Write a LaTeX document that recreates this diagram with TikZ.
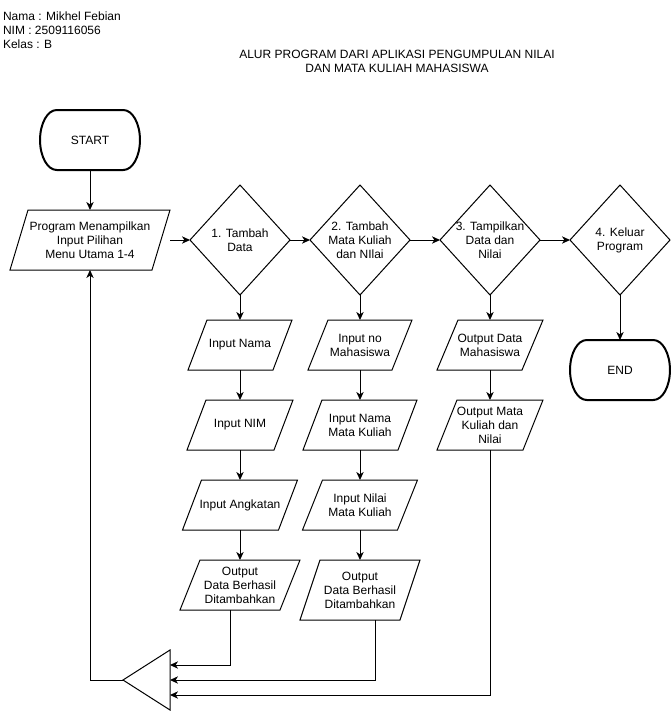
\documentclass[tikz,border=0pt]{standalone}
\usepackage{fontspec}
\setmainfont{Liberation Sans}
\usetikzlibrary{calc,arrows.meta}
\begin{document}
\begin{tikzpicture}[x=0.75pt,y=-0.75pt,
  every node/.style={font=\fontsize{9}{10.5}\selectfont, inner sep=0pt, outer sep=0pt, align=center},
  box/.style 2 args={minimum width=#1*0.75pt, minimum height=#2*0.75pt},
  outline/.style={line width=0.75pt, draw=black},
  termline/.style={line width=1.5pt, draw=black},
  link/.style={line width=0.75pt, draw=black},
  flow/.style={link, -{Stealth[length=6pt, width=5.5pt, inset=1.8pt]}},
]
\useasboundingbox (0,0) rectangle (671,711);

% header texts
\node[anchor=north west, align=left] (who) at (3,12.3) {Nama : Mikhel Febian\\NIM : 2509116056\\Kelas : B};
\node[anchor=north] (title) at (397,50) {ALUR PROGRAM DARI APLIKASI PENGUMPULAN NILAI\\DAN MATA KULIAH MAHASISWA};

% terminators
\node[box={100}{60}] (start) at (90,140) {START};
\node[box={100}{60}] (end) at (620,370) {END};

% main menu
\node[box={160}{60}] (menu) at (90,240) {Program Menampilkan\\Input Pilihan\\Menu Utama 1-4};

% decisions
\node[box={100}{110}] (d1) at (240,240) {1. Tambah\\Data};
\node[box={100}{110}] (d2) at (360,240) {2. Tambah\\Mata Kuliah\\dan NIlai};
\node[box={100}{110}] (d3) at (490,240) {3. Tampilkan\\Data dan\\Nilai};
\node[box={100}{110}] (d4) at (620,240) {4. Keluar\\Program};

% column 1
\node[box={104}{50}] (nama) at (240,345) {Input Nama};
\node[box={106}{50}] (nim) at (240,425) {Input NIM};
\node[box={115}{50}] (angk) at (240,505) {Input Angkatan};
\node[box={120}{50}] (out1) at (240,585) {Output\\Data Berhasil\\Ditambahkan};

% column 2
\node[box={104}{50}] (nomhs) at (360,345) {Input no\\Mahasiswa};
\node[box={114}{50}] (nmk) at (360,425) {Input Nama\\Mata Kuliah};
\node[box={115}{50}] (nilai) at (360,505) {Input Nilai\\Mata Kuliah};
\node[box={120}{60}] (out2) at (360,590) {Output\\Data Berhasil\\Ditambahkan};

% column 3
\node[box={106}{50}] (omhs) at (490,345) {Output Data\\Mahasiswa};
\node[box={106}{50}] (omk) at (490,425) {Output Mata\\Kuliah dan\\Nilai};

% merge point
\node[box={47}{60}] (merge) at (146.5,680) {};

% outlines: terminators
\foreach \n in {start,end}
  \draw[termline] ($(\n.north west)+(16.7,0)$)
    arc[x radius=12.5pt, y radius=22.5pt, start angle=90, end angle=270]
    -- ($(\n.south east)-(16.7,0)$)
    arc[x radius=12.5pt, y radius=22.5pt, start angle=-90, end angle=90]
    -- cycle;

% outlines: parallelograms (name/slant)
\foreach \n/\s in {menu/18, nama/19, nim/19, angk/19, out1/20, nomhs/20, nmk/19, nilai/20, out2/20, omhs/21, omk/20}
  \draw[outline] ($(\n.north west)+(\s,0)$) -- (\n.north east)
    -- ($(\n.south east)-(\s,0)$) -- (\n.south west) -- cycle;

% outlines: diamonds
\foreach \n in {d1,d2,d3,d4}
  \draw[outline] (\n.north) -- (\n.east) -- (\n.south) -- (\n.west) -- cycle;

% outline: merge triangle
\draw[outline] (merge.west) -- (merge.north east) -- (merge.south east) -- cycle;

% main row
\draw[flow] (start.south) -- (menu.north);
\draw[flow] (menu.east) -- (d1.west);
\draw[flow] (d1.east) -- (d2.west);
\draw[flow] (d2.east) -- (d3.west);
\draw[flow] (d3.east) -- (d4.west);
\draw[flow] (d4.south) -- (end.north);

% column 1
\draw[flow] (d1.south) -- (nama.north);
\draw[flow] (nama.south) -- (nim.north);
\draw[flow] (nim.south) -- (angk.north);
\draw[flow] (angk.south) -- (out1.north);

% column 2
\draw[flow] (d2.south) -- (nomhs.north);
\draw[flow] (nomhs.south) -- (nmk.north);
\draw[flow] (nmk.south) -- (nilai.north);
\draw[flow] (nilai.south) -- (out2.north);

% column 3
\draw[flow] (d3.south) -- (omhs.north);
\draw[flow] (omhs.south) -- (omk.north);

% return paths
\draw[flow] ($(out1.south)-(10,0)$) |- ($(merge.north east)!0.25!(merge.south east)$);
\draw[flow] ($(out2.south)+(15,0)$) |- ($(merge.north east)!0.5!(merge.south east)$);
\draw[flow] (omk.south) |- ($(merge.north east)!0.75!(merge.south east)$);
\draw[flow] (merge.west) -| (menu.south);
\end{tikzpicture}
\end{document}
